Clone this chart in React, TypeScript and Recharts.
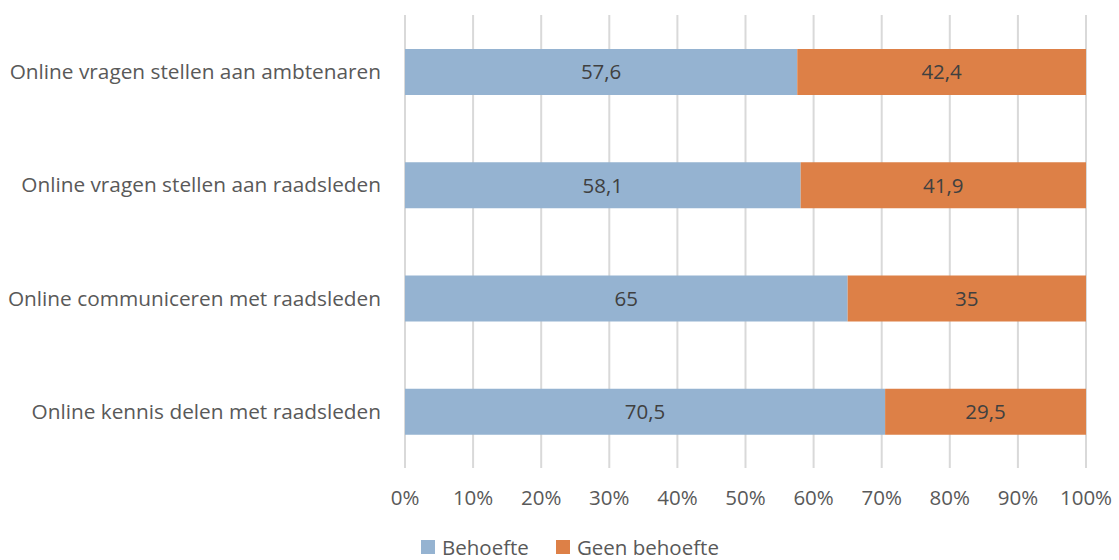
import React from 'react';
import { BarChart, Bar, XAxis, YAxis, CartesianGrid, Legend, LabelList } from 'recharts';

const categories = [
  'Online vragen stellen aan ambtenaren',
  'Online vragen stellen aan raadsleden',
  'Online communiceren met raadsleden',
  'Online kennis delen met raadsleden',
];
const behoefte = [57.6, 58.1, 65, 70.5];
const geenBehoefte = [42.4, 41.9, 35, 29.5];
const xTicks = [0, 10, 20, 30, 40, 50, 60, 70, 80, 90, 100];

const BLUE = '#95b3d1';
const ORANGE = '#dd8047';
const FONT = '"Open Sans", "Noto Sans", sans-serif';
const FS = 20.5;

const rows = categories.map((name, i) => ({
  name,
  behoefte: behoefte[i],
  geen: geenBehoefte[i],
}));

const fmt = (v: unknown) => String(v).replace('.', ',');

function LegendContent() {
  const items = [
    { label: 'Behoefte', color: BLUE },
    { label: 'Geen behoefte', color: ORANGE },
  ];
  return (
    <div style={{ display: 'flex', gap: 27, fontFamily: FONT, fontSize: FS, color: '#595959', lineHeight: '26px', paddingLeft: 421 }}>
      {items.map(it => (
        <div key={it.label} style={{ display: 'flex', alignItems: 'center', gap: 7 }}>
          <span style={{ width: 14, height: 14, background: it.color, display: 'inline-block' }} />
          <span>{it.label}</span>
        </div>
      ))}
    </div>
  );
}

export default function App() {
  return (
    <div style={{ position: 'absolute', left: 0, top: 0, width: 1119, height: 560, background: '#fff' }}>
      <BarChart
        width={1119}
        height={560}
        layout="vertical"
        data={rows}
        margin={{ top: 15, right: 33, left: 0, bottom: 36 }}
      >
        <CartesianGrid horizontal={false} stroke="#d9d9d9" strokeWidth={2} />
        <XAxis
          type="number"
          domain={[0, 100]}
          ticks={xTicks}
          tickFormatter={(v: number) => `${v}%`}
          axisLine={false}
          tickLine={false}
          tickMargin={16}
          tick={{ fontSize: FS, fill: '#595959', fontFamily: FONT }}
        />
        <YAxis
          type="category"
          dataKey="name"
          width={405}
          axisLine={false}
          tickLine={false}
          tickMargin={18}
          tick={{ fontSize: 20.8, fill: '#595959', fontFamily: FONT }}
        />
        <Legend verticalAlign="bottom" align="left" height={26} content={<LegendContent />} wrapperStyle={{ bottom: 0, left: 0, width: 1119 }} />
        <Bar dataKey="behoefte" name="Behoefte" stackId="a" fill={BLUE} barSize={46} isAnimationActive={false}>
          <LabelList dataKey="behoefte" position="center" formatter={fmt} fill="#404040" fontSize={FS} fontFamily={FONT} />
        </Bar>
        <Bar dataKey="geen" name="Geen behoefte" stackId="a" fill={ORANGE} barSize={46} isAnimationActive={false}>
          <LabelList dataKey="geen" position="center" formatter={fmt} fill="#404040" fontSize={FS} fontFamily={FONT} />
        </Bar>
      </BarChart>
    </div>
  );
}
